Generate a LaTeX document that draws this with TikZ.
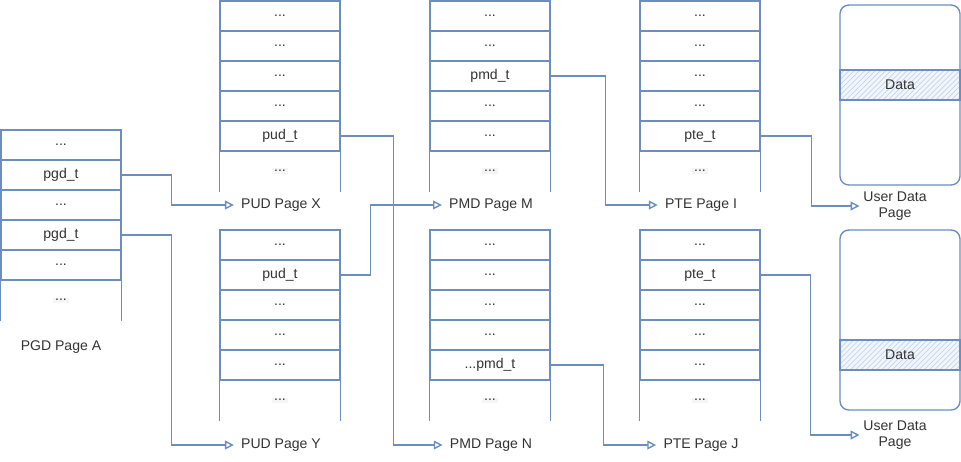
\documentclass[tikz,border=0pt]{standalone}
\usepackage{fontspec}
\setmainfont{Liberation Sans}
\usetikzlibrary{arrows.meta, positioning, patterns}

\definecolor{lineblue}{HTML}{6C8EBF}
\definecolor{txtgray}{HTML}{333333}
\definecolor{hatchblue}{HTML}{C3D5EE}
\definecolor{bandfill}{HTML}{F2F6FC}

\newcommand{\etcdots}{...}

% one page table: name, centre x, top y, five entries
\newcommand{\pagetab}[4]{%
  \foreach \entry [count=\i] in {#4}
    \node[cell] (#1-\i) at (#2, #3+30*\i-15) {\entry};
  \draw[line] (#1-5.south west) -- ++(0,40) (#1-5.south east) -- ++(0,40);
  \node[tail] (#1-6) at (#2, #3+170) {\etcdots};
}

\begin{document}
\begin{tikzpicture}[x=0.02cm, y=-0.02cm,
    line/.style={draw=lineblue, line width=0.8pt},
    cell/.style={rectangle, line, minimum width=2.4cm, minimum height=0.6cm, inner sep=0pt,
      text=txtgray, font=\fontsize{8}{9.5}\selectfont},
    tail/.style={fill=black!4, inner sep=1pt, text=txtgray, font=\fontsize{8}{9.5}\selectfont},
    lbl/.style={inner sep=4pt, text=txtgray, font=\fontsize{8}{9.5}\selectfont},
    udpage/.style={rectangle, line, rounded corners=5pt, minimum width=2.4cm, minimum height=3.6cm},
    databand/.style={rectangle, line, minimum width=2.4cm, minimum height=0.6cm, inner sep=0pt,
      preaction={fill=bandfill}, pattern=north east lines, pattern color=hatchblue,
      text=txtgray, font=\fontsize{8}{9.5}\selectfont},
    link/.style={line, -{Triangle[open, length=5pt, width=5pt]}}]

\useasboundingbox (0,0) rectangle (961,461);

% page tables
\pagetab{pgdA}{61}{130}{\etcdots, pgd\_t, \etcdots, pgd\_t, \etcdots}
\pagetab{pudX}{280}{1}{\etcdots, \etcdots, \etcdots, \etcdots, pud\_t}
\pagetab{pudY}{280}{230}{\etcdots, pud\_t, \etcdots, \etcdots, \etcdots}
\pagetab{pmdM}{490}{1}{\etcdots, \etcdots, pmd\_t, \etcdots, \etcdots}
\pagetab{pmdN}{490}{230}{\etcdots, \etcdots, \etcdots, \etcdots, \etcdots pmd\_t}
\pagetab{pteI}{700}{1}{\etcdots, \etcdots, \etcdots, \etcdots, pte\_t}
\pagetab{pteJ}{700}{230}{\etcdots, pte\_t, \etcdots, \etcdots, \etcdots}

% user data pages
\node[udpage] (pageI) at (900,95) {};
\node[databand] (dataI) at (900,85) {Data};
\node[udpage] (pageJ) at (900,320) {};
\node[databand] (dataJ) at (900,355) {Data};

% labels
\node[lbl] (lblA) at (61,347) {PGD Page A};
\node[lbl] (lblX) at (281,205) {PUD Page X};
\node[lbl] (lblY) at (281,445) {PUD Page Y};
\node[lbl] (lblM) at (491,205) {PMD Page M};
\node[lbl] (lblN) at (491,445) {PMD Page N};
\node[lbl] (lblI) at (701,205) {PTE Page I};
\node[lbl] (lblJ) at (701,445) {PTE Page J};
\node[lbl, align=center, inner sep=2pt] (userI) at (895,206) {User Data\\Page};
\node[lbl, align=center, inner sep=2pt] (userJ) at (895,435) {User Data\\Page};

% entries pointing to next level
\draw[link] (pgdA-2.east) -- ++(50,0) |- (lblX.west);
\draw[link] (pgdA-4.east) -- ++(50,0) |- (lblY.west);
\draw[link] (pudX-5.east) -- ++(53,0) |- (lblN.west);
\draw[link] (pudY-2.east) -- ++(30,0) |- (lblM.west);
\draw[link] (pmdM-3.east) -- ++(55,0) |- (lblI.west);
\draw[link] (pmdN-5.east) -- ++(53,0) |- (lblJ.west);
\draw[link] (pteI-5.east) -- ++(51,0) |- (userI.west);
\draw[link] (pteJ-2.east) -- ++(50,0) |- (userJ.west);

\end{tikzpicture}
\end{document}
